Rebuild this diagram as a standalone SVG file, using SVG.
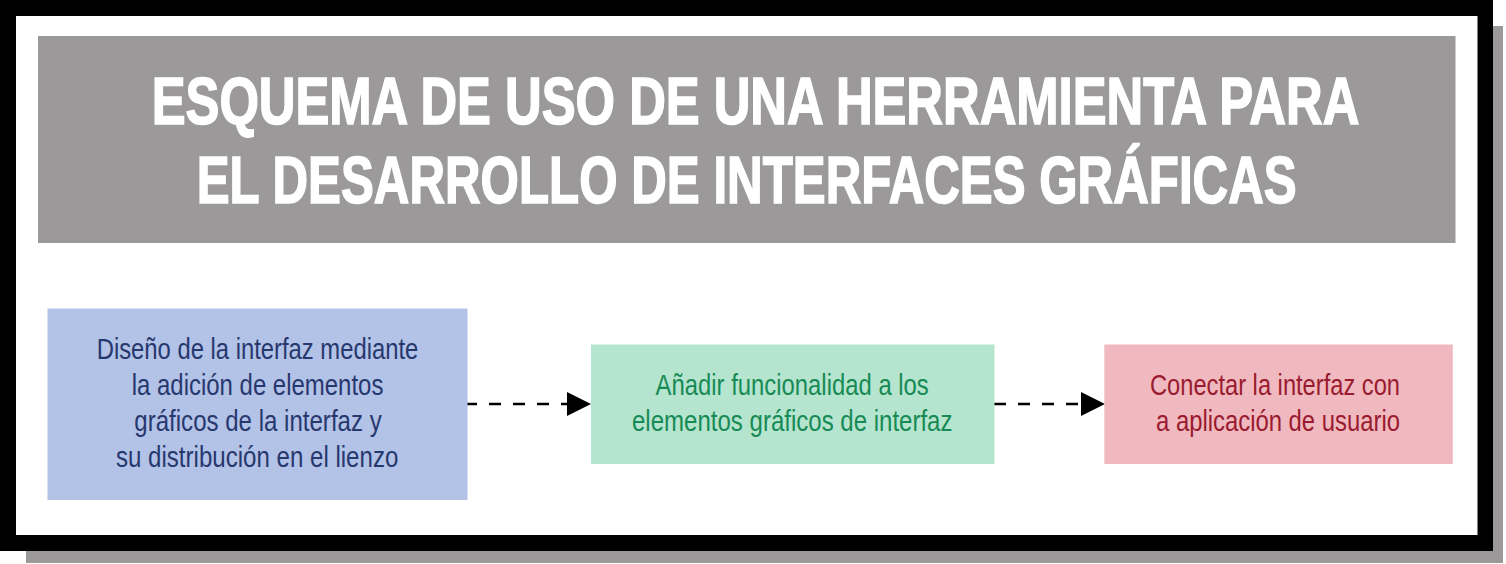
<svg xmlns="http://www.w3.org/2000/svg" width="1506" height="564" viewBox="0 0 1506 564">
  <style>
    .title { font-family: "Liberation Sans", Arial, sans-serif; font-weight: bold; font-size: 67px; fill: #ffffff; stroke: #ffffff; stroke-width: 1.6; }
    .body { font-family: "Liberation Sans", Arial, sans-serif; font-size: 30px; }
    .blue-t { fill: #27386e; }
    .green-t { fill: #178a55; }
    .pink-t { fill: #9a1b30; }
    .conn { stroke: #000000; stroke-width: 2.5; stroke-dasharray: 12 12; fill: none; }
  </style>
  <defs>
    <marker id="arrow" markerUnits="userSpaceOnUse" markerWidth="24" markerHeight="24" refX="0" refY="12" orient="auto">
      <path d="M0,0 L24,12 L0,24 Z" fill="#000000"/>
    </marker>
  </defs>

  <g id="frame">
    <rect x="26" y="26" width="1477" height="537" fill="#9b9999"/>
    <rect x="0" y="0" width="1493" height="551" fill="#000000"/>
    <rect x="16" y="16" width="1461.5" height="519" fill="#ffffff"/>
  </g>

  <g id="title">
    <rect x="38" y="36" width="1417.5" height="207" fill="#9b9999"/>
    <text class="title" x="151.7" y="124" textLength="1207.6" lengthAdjust="spacingAndGlyphs">ESQUEMA DE USO DE UNA HERRAMIENTA PARA</text>
    <text class="title" x="196.7" y="203" textLength="1100" lengthAdjust="spacingAndGlyphs">EL DESARROLLO DE INTERFACES GRÁFICAS</text>
  </g>

  <g id="connectors">
    <line class="conn" x1="465" y1="404" x2="567" y2="404" marker-end="url(#arrow)"/>
    <line class="conn" x1="994" y1="404" x2="1081" y2="404" marker-end="url(#arrow)"/>
  </g>

  <g id="node-diseno">
    <rect x="47.5" y="308.5" width="420" height="191.5" fill="#b3c2e7"/>
    <text class="body blue-t" x="96.7" y="359.3" textLength="321.6" lengthAdjust="spacingAndGlyphs">Diseño de la interfaz mediante</text>
    <text class="body blue-t" x="131.7" y="395" textLength="251.7" lengthAdjust="spacingAndGlyphs">la adición de elementos</text>
    <text class="body blue-t" x="134.3" y="430.5" textLength="247.4" lengthAdjust="spacingAndGlyphs">gráficos de la interfaz y</text>
    <text class="body blue-t" x="116" y="466.5" textLength="282.3" lengthAdjust="spacingAndGlyphs">su distribución en el lienzo</text>
  </g>

  <g id="node-funcionalidad">
    <rect x="591" y="344.5" width="403.5" height="119.5" fill="#b5e5cf"/>
    <text class="body green-t" x="655.6" y="395" textLength="273.2" lengthAdjust="spacingAndGlyphs">Añadir funcionalidad a los</text>
    <text class="body green-t" x="632" y="430.5" textLength="320.5" lengthAdjust="spacingAndGlyphs">elementos gráficos de interfaz</text>
  </g>

  <g id="node-conectar">
    <rect x="1104.3" y="344.5" width="348.5" height="119.5" fill="#f0b9bf"/>
    <text class="body pink-t" x="1150" y="394.5" textLength="250" lengthAdjust="spacingAndGlyphs">Conectar la interfaz con</text>
    <text class="body pink-t" x="1156" y="430.5" textLength="244" lengthAdjust="spacingAndGlyphs">a aplicación de usuario</text>
  </g>
</svg>
